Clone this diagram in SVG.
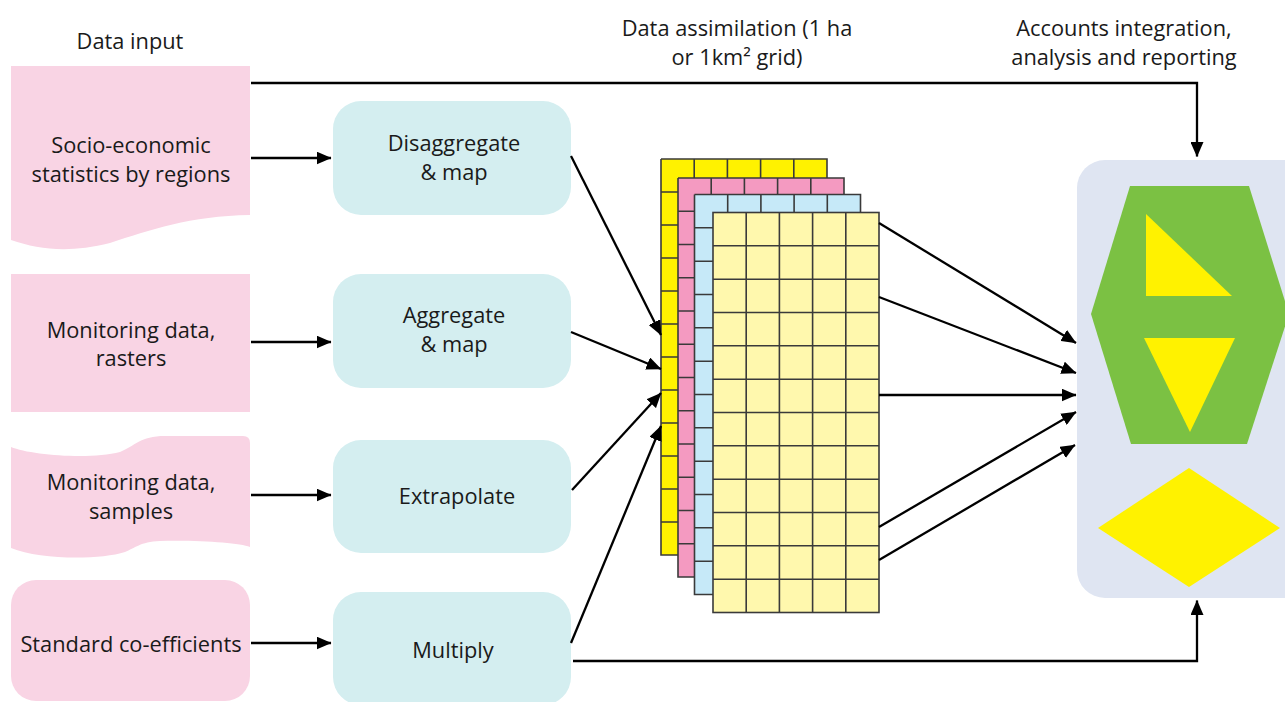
<svg xmlns="http://www.w3.org/2000/svg" width="1285" height="702" viewBox="0 0 1285 702">
<defs>
<style>
.t{font-family:"Open Sans","Liberation Sans",sans-serif;font-size:21.8px;fill:#1a1a1a;text-anchor:middle;font-weight:400}
.src{fill:#f9d4e4}
.proc{fill:#d4eef0}
.grid{stroke:#3a3a3a;stroke-width:1.6;fill:none}
.edge{stroke:#000;stroke-width:2.3;fill:none}
</style>
<marker id="ah" viewBox="0 0 15 13" refX="14.5" refY="6.5" markerWidth="15" markerHeight="13" markerUnits="userSpaceOnUse" orient="auto">
<path d="M0,0 L15,6.5 L0,13 Z" fill="#000"/>
</marker>
</defs>
<rect width="1285" height="702" fill="#fff"/>

<g id="headings">
<text class="t" x="130" y="49">Data input</text>
<text class="t" x="737" y="36">Data assimilation (1 ha</text>
<text class="t" x="737" y="65">or 1km² grid)</text>
<text class="t" x="1124" y="36">Accounts integration,</text>
<text class="t" x="1124" y="65">analysis and reporting</text>
</g>

<g id="socio">
<path class="src" d="M11,66 H250 V215 C190,216 150,230 110,243 C70,253 40,250 11,240 Z"/>
<text class="t" x="131" y="153">Socio-economic</text>
<text class="t" x="131" y="182">statistics by regions</text>
</g>
<g id="rasters">
<rect class="src" x="11" y="274" width="239" height="138"/>
<text class="t" x="131" y="338">Monitoring data,</text>
<text class="t" x="131" y="366">rasters</text>
</g>
<g id="samples">
<path class="src" d="M11,447 C30,455 90,460 120,452 C135,446 140,436 165,436 L243,436 Q250,436 250,443 L250,547 C240,543 200,540 160,541 C140,542 135,548 125,552 C100,560 40,560 11,548 Z"/>
<text class="t" x="131" y="490">Monitoring data,</text>
<text class="t" x="131" y="519">samples</text>
</g>
<g id="coefficients">
<rect class="src" x="11" y="580" width="239" height="121" rx="25"/>
<text class="t" x="131" y="652">Standard co-efficients</text>
</g>

<g id="disaggregate">
<rect class="proc" x="333" y="101" width="238" height="114" rx="28"/>
<text class="t" x="454" y="151">Disaggregate</text>
<text class="t" x="454" y="180">&amp; map</text>
</g>
<g id="aggregate">
<rect class="proc" x="333" y="274" width="238" height="114" rx="28"/>
<text class="t" x="454" y="323">Aggregate</text>
<text class="t" x="454" y="352">&amp; map</text>
</g>
<g id="extrapolate">
<rect class="proc" x="333" y="440" width="238" height="113" rx="28"/>
<text class="t" x="457" y="504">Extrapolate</text>
</g>
<g id="multiply">
<rect class="proc" x="333" y="592" width="238" height="113" rx="28"/>
<text class="t" x="453" y="658">Multiply</text>
</g>

<g id="grid-stack">
<g id="layer-yellow">
<rect x="661" y="159" width="166" height="396" fill="#fff200"/>
<path class="grid" d="M661,159 h166 v33 M661,159 V555 h33.2 M694.2,159 v33 M727.4,159 v33 M760.6,159 v33 M793.8,159 v33 M661,192 h17 M661,225 h17 M661,258 h17 M661,291 h17 M661,324 h17 M661,357 h17 M661,390 h17 M661,423 h17 M661,456 h17 M661,489 h17 M661,522 h17 M694.2,555 v-20"/>
</g>
<g id="layer-pink">
<rect x="678" y="178" width="166" height="399" fill="#f49ac1"/>
<path class="grid" d="M678,178 h166 v17 M678,178 V577 h17 M711.2,178 v17 M744.4,178 v17 M777.6,178 v17 M810.8,178 v17 M678,211.2 h17 M678,244.5 h17 M678,277.8 h17 M678,311 h17 M678,344.2 h17 M678,377.5 h17 M678,410.8 h17 M678,444 h17 M678,477.2 h17 M678,510.5 h17 M678,543.8 h17"/>
</g>
<g id="layer-blue">
<rect x="694.5" y="194.5" width="166" height="400" fill="#c6e9f8"/>
<path class="grid" d="M694.5,194.5 h166 v18 M694.5,194.5 V594.5 h18.5 M727.7,194.5 v18 M760.9,194.5 v18 M794.1,194.5 v18 M827.3,194.5 v18 M694.5,227.8 h18.5 M694.5,261.2 h18.5 M694.5,294.5 h18.5 M694.5,327.8 h18.5 M694.5,361.2 h18.5 M694.5,394.5 h18.5 M694.5,427.8 h18.5 M694.5,461.2 h18.5 M694.5,494.5 h18.5 M694.5,527.8 h18.5 M694.5,561.2 h18.5"/>
</g>
<g id="layer-cream">
<rect x="713" y="212.5" width="166" height="400" fill="#fff8ad" stroke="#3a3a3a" stroke-width="1.6"/>
<path class="grid" d="M746.2,212.5 V612.5 M779.4,212.5 V612.5 M812.6,212.5 V612.5 M845.8,212.5 V612.5 M713,245.8 H879 M713,279.2 H879 M713,312.5 H879 M713,345.8 H879 M713,379.2 H879 M713,412.5 H879 M713,445.8 H879 M713,479.2 H879 M713,512.5 H879 M713,545.8 H879 M713,579.2 H879"/>
</g>
</g>

<g id="accounts">
<rect x="1077" y="160" width="240" height="438" rx="28" fill="#dfe5f2"/>
<polygon points="1130,186 1249,186 1289,314 1247,444 1131,444 1091,314" fill="#7bc143"/>
<polygon points="1146,214 1146,296 1232,296" fill="#fff200"/>
<polygon points="1144,338 1235,338 1190,432" fill="#fff200"/>
<polygon points="1189,468 1280,528 1189,587 1098,528" fill="#fff200"/>
</g>

<g id="connectors">
<path class="edge" d="M251,83 H1197 V156.5" marker-end="url(#ah)"/>
<path class="edge" d="M251,158 H331" marker-end="url(#ah)"/>
<path class="edge" d="M251,342 H331" marker-end="url(#ah)"/>
<path class="edge" d="M251,495 H331" marker-end="url(#ah)"/>
<path class="edge" d="M251,643 H331" marker-end="url(#ah)"/>
<path class="edge" d="M573,661 H1197 V600.5" marker-end="url(#ah)"/>
<path class="edge" d="M571,156 L661,335" marker-end="url(#ah)"/>
<path class="edge" d="M571,332 L661,369" marker-end="url(#ah)"/>
<path class="edge" d="M572,490 L661,393" marker-end="url(#ah)"/>
<path class="edge" d="M571,643 L661,426" marker-end="url(#ah)"/>
<path class="edge" d="M879,223 L1076,343" marker-end="url(#ah)"/>
<path class="edge" d="M879,297 L1076,373" marker-end="url(#ah)"/>
<path class="edge" d="M879,395 L1076,395" marker-end="url(#ah)"/>
<path class="edge" d="M879,527 L1076,412" marker-end="url(#ah)"/>
<path class="edge" d="M879,560 L1075,445" marker-end="url(#ah)"/>
</g>
</svg>
